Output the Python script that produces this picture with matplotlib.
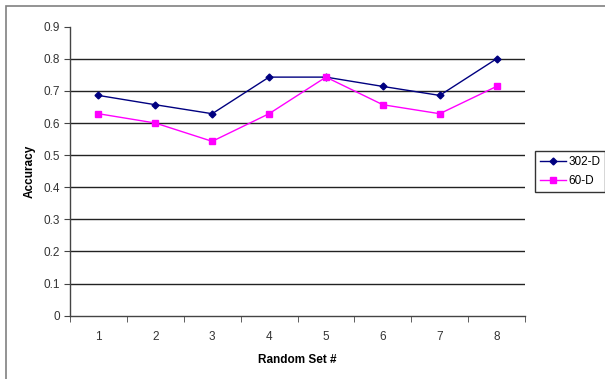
import matplotlib
matplotlib.use("Agg")
import matplotlib.pyplot as plt
from matplotlib.patches import Rectangle

plt.rcParams['font.family'] = ['Liberation Sans', 'DejaVu Sans']

sets = [1, 2, 3, 4, 5, 6, 7, 8]
acc_302d = [0.686, 0.657, 0.629, 0.743, 0.743, 0.714, 0.686, 0.800]
acc_60d = [0.629, 0.600, 0.543, 0.629, 0.743, 0.657, 0.629, 0.714]
y_ticks = [0, 0.1, 0.2, 0.3, 0.4, 0.5, 0.6, 0.7, 0.8, 0.9]

W, H = 605, 379
fig = plt.figure(figsize=(W / 100, H / 100), dpi=100)

# outer chart border (cropped on the right and bottom)
fig.patches.append(Rectangle((6 / W, -0.05), 1.1, 1 - 6 / H + 0.05,
                             transform=fig.transFigure, fill=False,
                             edgecolor='#808080', linewidth=1.2))

ax = fig.add_axes([70 / W, 1 - 315.7 / H, 455 / W, (315.7 - 26.7) / H])

ax.plot(sets, acc_302d, color='#000080', marker='D', markersize=3.5,
        linewidth=1, label='302-D')
ax.plot(sets, acc_60d, color='#FF00FF', marker='s', markersize=4.5,
        linewidth=1, label='60-D')

ax.set_xlim(0.5, 8.5)
ax.set_ylim(0, 0.9)
ax.set_yticks(y_ticks)
ax.set_yticklabels([f"{v:g}" for v in y_ticks])
ax.set_xticks(sets)
ax.set_xticks([s + 0.5 for s in [0] + sets], minor=True)
ax.tick_params(axis='x', which='major', length=0, pad=11, labelsize=8.5, colors='#333333')
ax.tick_params(axis='x', which='minor', length=4, color='#444444', direction='out')
ax.tick_params(axis='y', length=4, color='#444444', labelsize=8.5, labelcolor='#333333', pad=3)

for v in y_ticks[1:-1]:
    ax.axhline(v, color='#222222', linewidth=1, zorder=0.5)

for side in ['top', 'right']:
    ax.spines[side].set_visible(False)
for side in ['left', 'bottom']:
    ax.spines[side].set_color('#444444')
    ax.spines[side].set_linewidth(1)

ax.set_xlabel('Random Set #', fontsize=8.5, fontweight='bold', labelpad=8)
ax.set_ylabel('Accuracy', fontsize=8.5, fontweight='bold', labelpad=6)

leg = fig.legend(loc='upper left', bbox_to_anchor=(535 / W, 1 - 151 / H),
                 fontsize=8.5, frameon=True, fancybox=False, handlelength=2.2,
                 borderpad=0.4, labelspacing=0.6, handletextpad=0.2,
                 borderaxespad=0)
leg.get_frame().set_edgecolor('black')
leg.get_frame().set_linewidth(1)

fig.savefig('out.png', dpi=100)
